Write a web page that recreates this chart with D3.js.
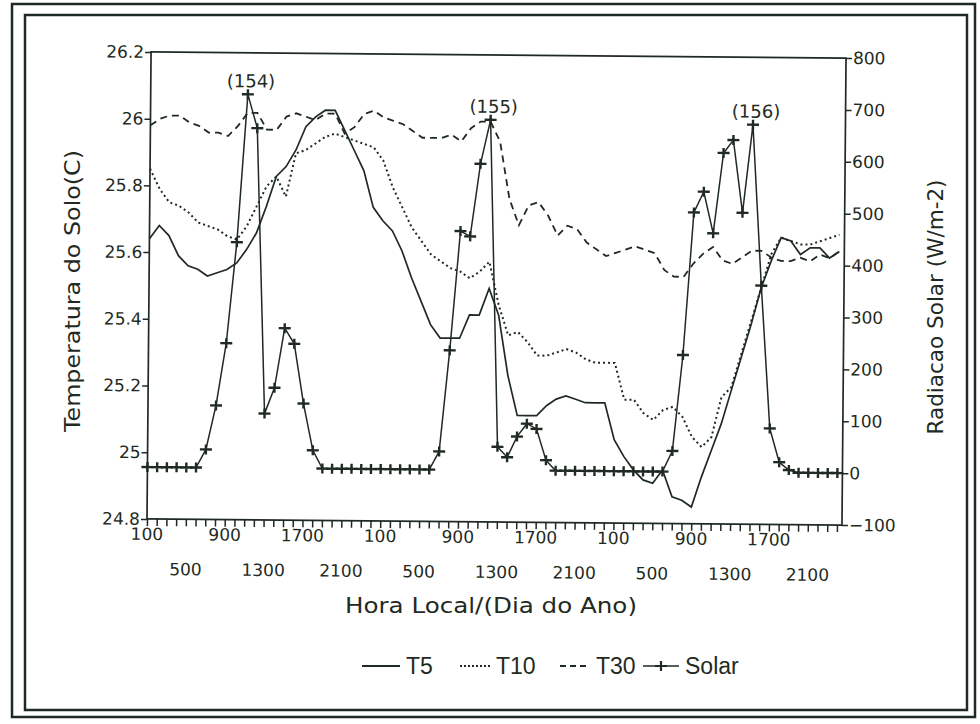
<!DOCTYPE html>
<html>
<head>
<meta charset="utf-8">
<script src="https://cdn.jsdelivr.net/npm/d3@7"></script>
<style>
  body { margin: 0; background: #fff; }
  svg { display: block; }
  text { font-family: 'DejaVu Sans', 'Liberation Sans', Arial, sans-serif; fill: #1f2a22; }
  .lg { font-family: 'Liberation Sans', Arial, sans-serif; }
</style>
</head>
<body>
<svg id="chart"></svg>
<script>
// dias do ano e rotulos das horas no eixo x
const days = [154, 155, 156];
const hourLabels = [100, 500, 900, 1300, 1700, 2100];

// temperatura do solo (C), uma leitura por hora, 72 horas
const t5 = [
  25.64, 25.68, 25.65, 25.59, 25.56, 25.55, 25.53, 25.54, 25.55, 25.57, 25.61, 25.66,
  25.74, 25.83, 25.86, 25.91, 25.98, 26.01, 26.03, 26.03, 25.97, 25.91, 25.85, 25.74,
  25.70, 25.67, 25.61, 25.53, 25.46, 25.39, 25.35, 25.35, 25.35, 25.42, 25.42, 25.50,
  25.42, 25.24, 25.12, 25.12, 25.12, 25.15, 25.17, 25.18, 25.17, 25.16, 25.16, 25.16,
  25.05, 25.00, 24.96, 24.93, 24.92, 24.96, 24.88, 24.87, 24.85, 24.94, 25.02, 25.10,
  25.20, 25.30, 25.40, 25.51, 25.59, 25.66, 25.65, 25.61, 25.63, 25.63, 25.60, 25.62
];
const t10 = [
  25.85, 25.79, 25.75, 25.74, 25.72, 25.69, 25.68, 25.67, 25.65, 25.64, 25.68, 25.74,
  25.80, 25.83, 25.77, 25.90, 25.91, 25.93, 25.95, 25.96, 25.95, 25.94, 25.93, 25.92,
  25.88, 25.80, 25.74, 25.68, 25.64, 25.60, 25.58, 25.56, 25.55, 25.53, 25.55, 25.58,
  25.45, 25.36, 25.37, 25.34, 25.30, 25.30, 25.31, 25.32, 25.31, 25.29, 25.28, 25.28,
  25.28, 25.17, 25.17, 25.13, 25.11, 25.14, 25.15, 25.12, 25.06, 25.03, 25.06, 25.18,
  25.21, 25.31, 25.41, 25.51, 25.61, 25.66, 25.65, 25.64, 25.64, 25.65, 25.66, 25.67
];
const t30 = [
  25.98, 26.00, 26.01, 26.01, 25.99, 25.98, 25.96, 25.96, 25.95, 25.98, 26.02, 26.02,
  25.97, 25.97, 26.01, 26.02, 26.01, 26.00, 26.02, 26.02, 25.96, 25.98, 26.02, 26.03,
  26.01, 26.00, 25.99, 25.97, 25.95, 25.95, 25.95, 25.96, 25.94, 25.98, 26.00, 26.00,
  25.94, 25.77, 25.69, 25.75, 25.76, 25.72, 25.66, 25.69, 25.68, 25.64, 25.62, 25.60,
  25.61, 25.62, 25.63, 25.62, 25.61, 25.56, 25.54, 25.54, 25.58, 25.61, 25.63, 25.59,
  25.58, 25.60, 25.62, 25.62, 25.60, 25.59, 25.59, 25.60, 25.59, 25.61, 25.60, 25.62
];
// radiacao solar (W/m-2)
const solar = [
  0, 0, 0, 0, 0, 0, 35, 120, 240, 435, 720, 655,
  105, 155, 270, 240, 125, 35, 0, 0, 0, 0, 0, 0,
  0, 0, 0, 0, 0, 0, 35, 230, 460, 450, 590, 675,
  45, 25, 65, 90, 80, 20, 0, 0, 0, 0, 0, 0,
  0, 0, 0, 0, 0, 0, 40, 225, 500, 540, 460, 615,
  640, 500, 670, 360, 85, 20, 5, 0, 0, 0, 0, 0
];

const tempTicks = [24.8, 25, 25.2, 25.4, 25.6, 25.8, 26, 26.2];
const solarTicks = [-100, 0, 100, 200, 300, 400, 500, 600, 700, 800];

const ink = '#1f2a22';
const width = 980, height = 724;
const plotL = 149, plotR = 844, plotT = 55, plotB = 522;

const svg = d3.select('#chart')
  .attr('width', width)
  .attr('height', height);

svg.append('rect').attr('width', width).attr('height', height).attr('fill', '#fff');

// moldura dupla
svg.append('rect')
  .attr('x', 12).attr('y', 4).attr('width', 963).attr('height', 713)
  .attr('fill', 'none').attr('stroke', ink).attr('stroke-width', 2.5);
svg.append('rect')
  .attr('x', 25).attr('y', 15).attr('width', 942).attr('height', 695)
  .attr('fill', 'none').attr('stroke', ink).attr('stroke-width', 2.5);

// the scan is slightly tilted
const g = svg.append('g').attr('transform', 'rotate(0.5 496 290)');

const x = d3.scaleLinear().domain([0, solar.length - 1]).range([plotL, 839]);
const yT = d3.scaleLinear().domain([24.8, 26.2]).range([plotB, plotT]);
const yS = d3.scaleLinear().domain([-100, 800]).range([plotB, plotT]);

// caixa do grafico
g.append('rect')
  .attr('x', plotL).attr('y', plotT)
  .attr('width', plotR - plotL).attr('height', plotB - plotT)
  .attr('fill', 'none').attr('stroke', ink).attr('stroke-width', 1.7);

const axisL = g.append('g')
  .attr('transform', `translate(${plotL},0)`)
  .call(d3.axisLeft(yT).tickValues(tempTicks).tickSize(6).tickPadding(1).tickFormat(d3.format('~g')));

const axisR = g.append('g')
  .attr('transform', `translate(${plotR},0)`)
  .call(d3.axisRight(yS).tickValues(solarTicks).tickSize(6).tickPadding(1));

const axisB = g.append('g')
  .attr('transform', `translate(0,${plotB})`)
  .call(d3.axisBottom(x).tickValues(d3.range(solar.length)).tickSize(7).tickFormat(''));

[axisL, axisR, axisB].forEach(a => {
  a.select('.domain').remove();
  a.selectAll('line').attr('stroke', ink).attr('stroke-width', 1.5);
  a.selectAll('text').style('font-size', '17px').attr('fill', ink)
    .style('font-family', "'DejaVu Sans', sans-serif");
});

// rotulos das horas em duas linhas
days.forEach((day, d) => {
  hourLabels.forEach((h, j) => {
    const idx = d * 24 + h / 100 - 1;
    g.append('text')
      .attr('x', x(idx))
      .attr('y', j % 2 === 0 ? 543 : 578)
      .attr('text-anchor', 'middle')
      .style('font-size', '17px')
      .text(h);
  });
});

const series = [
  { name: 'T5', values: t5, dash: null, w: 1.7 },
  { name: 'T10', values: t10, dash: '2,3', w: 2 },
  { name: 'T30', values: t30, dash: '7,5', w: 1.8 }
];

const lineT = d3.line().x((d, i) => x(i)).y(d => yT(d));

series.forEach(s => {
  g.append('path')
    .datum(s.values)
    .attr('d', lineT)
    .attr('fill', 'none')
    .attr('stroke', ink)
    .attr('stroke-width', s.w)
    .attr('stroke-dasharray', s.dash);
});

const lineS = d3.line().x((d, i) => x(i)).y(d => yS(d));
g.append('path')
  .datum(solar)
  .attr('d', lineS)
  .attr('fill', 'none')
  .attr('stroke', ink)
  .attr('stroke-width', 1.5);

const plus = 'M-6,0H6M0,-5V5';
g.selectAll('.mk')
  .data(solar)
  .enter()
  .append('path')
  .attr('class', 'mk')
  .attr('d', plus)
  .attr('transform', (d, i) => `translate(${x(i)},${yS(d)})`)
  .attr('stroke', ink)
  .attr('stroke-width', 2.4);

// dia do ano acima do pico de cada dia
days.forEach((day, d) => {
  const slice = solar.slice(d * 24, d * 24 + 24);
  const k = d * 24 + d3.maxIndex(slice);
  g.append('text')
    .attr('x', x(k) + 3)
    .attr('y', yS(solar[k]) - 7)
    .attr('text-anchor', 'middle')
    .style('font-size', '18px')
    .text(`(${day})`);
});

// titulos dos eixos
svg.append('text')
  .attr('transform', 'translate(80,291) rotate(-90)')
  .attr('text-anchor', 'middle')
  .attr('textLength', 282)
  .attr('lengthAdjust', 'spacingAndGlyphs')
  .style('font-size', '21px')
  .text('Temperatura do Solo(C)');

svg.append('text')
  .attr('transform', 'translate(943,307) rotate(-90)')
  .attr('text-anchor', 'middle')
  .attr('textLength', 255)
  .attr('lengthAdjust', 'spacingAndGlyphs')
  .style('font-size', '21px')
  .text('Radiacao Solar (W/m-2)');

svg.append('text')
  .attr('x', 491).attr('y', 613)
  .attr('text-anchor', 'middle')
  .attr('textLength', 292)
  .attr('lengthAdjust', 'spacingAndGlyphs')
  .style('font-size', '22px')
  .text('Hora Local/(Dia do Ano)');

// legenda
const legend = [
  { name: 'T5', x1: 362, x2: 400, dash: null, w: 1.8, marker: false },
  { name: 'T10', x1: 460, x2: 490, dash: '2,2', w: 2, marker: false },
  { name: 'T30', x1: 560, x2: 590, dash: '6,4', w: 1.8, marker: false },
  { name: 'Solar', x1: 643, x2: 679, dash: null, w: 1.6, marker: true }
];
const ly = 666;
legend.forEach(l => {
  svg.append('line')
    .attr('x1', l.x1).attr('x2', l.x2).attr('y1', ly).attr('y2', ly)
    .attr('stroke', ink).attr('stroke-width', l.w)
    .attr('stroke-dasharray', l.dash);
  if (l.marker) {
    svg.append('path')
      .attr('d', plus)
      .attr('transform', `translate(${(l.x1 + l.x2) / 2},${ly})`)
      .attr('stroke', ink).attr('stroke-width', 2.2);
  }
  svg.append('text')
    .attr('class', 'lg')
    .attr('x', l.x2 + 6).attr('y', ly + 8)
    .style('font-size', '23px')
    .text(l.name);
});
</script>
</body>
</html>
